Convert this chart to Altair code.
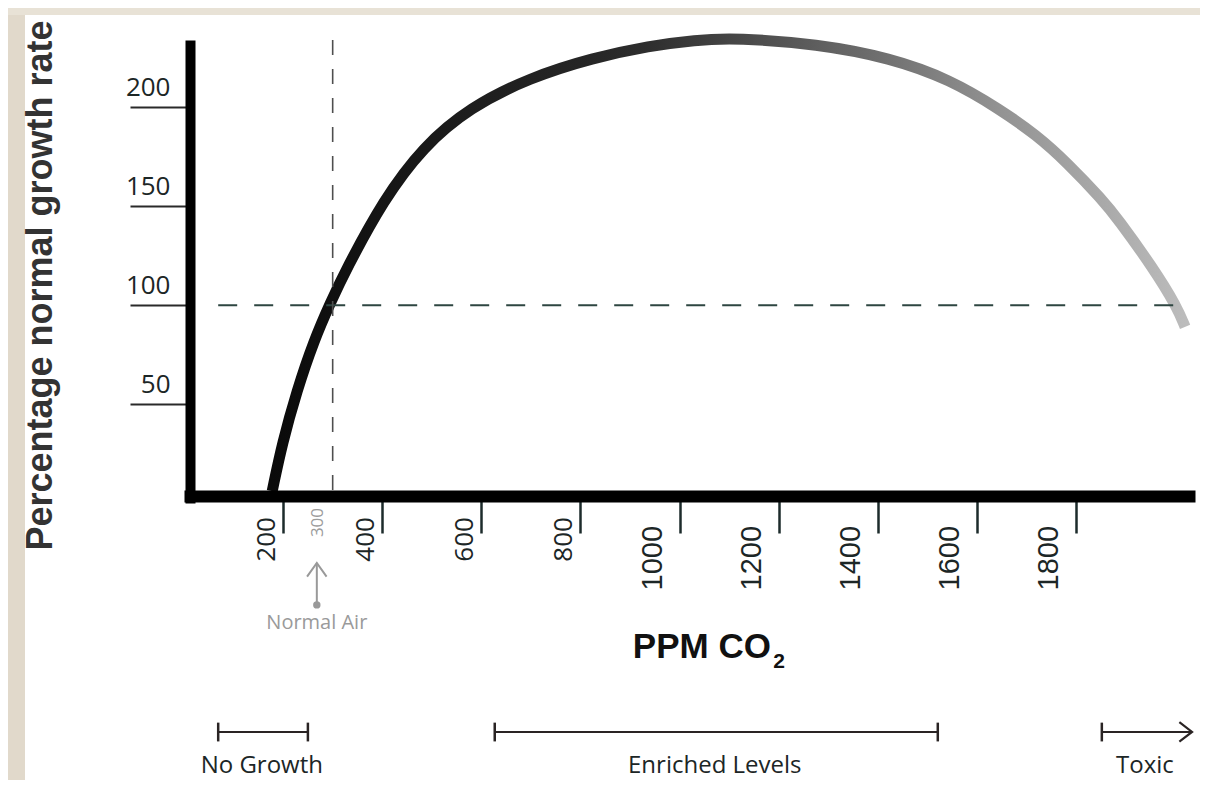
import altair as alt
import pandas as pd

# ---------------- data ----------------
ppm = [178, 198, 228, 262, 295, 327, 402, 482, 577, 698, 825, 940, 1030, 1116, 1277,
       1425, 1546, 1646, 1720, 1782, 1854, 1883, 1955, 2004, 2020]
growth = [6, 30, 57, 82, 101, 118, 153, 180, 200, 215, 225, 231, 234, 235, 232,
          225, 214, 199, 186, 172, 153, 144, 119, 99, 89]

x_ticks = [200, 400, 600, 800, 1000, 1200, 1400, 1600, 1800]
x_labels_short = [200, 400, 600, 800]
x_labels_long = [1000, 1200, 1400, 1600, 1800]
normal_air_ppm = [300]
y_ticks = [50, 100, 150, 200]

reference_growth = [100]
reference_span = [69, 2024]

range_names = ["No Growth", "Enriched Levels", "Toxic"]
range_start = [69, 627, 1852]
range_end = [250, 1521, 2034]
range_text_x = [157, 1071, 1939]
cap_positions = [69, 250, 627, 1521, 1852]
arrow_tip = [2034]

normal_air_label = ["Normal Air"]
normal_air_x = [268]

X_DOMAIN = [0, 2040]
Y_DOMAIN = [0, 234]

# vertical positions (in growth units) of the annotations below the axis
LABEL_SHORT_Y = -7.1
LABEL_LONG_Y = -11.6
LABEL_300_Y = -2.5
BAR_Y = -115.7
CAP_TOP = -111
CAP_BOTTOM = -120.5
RANGE_TEXT_Y = -136.4
AIR_TIP_Y = -30.3
AIR_DOT_Y = -51.5
AIR_TEXT_Y = -60.6
XTITLE_Y = -78.3
XSUB_Y = -83.5

x_scale = alt.Scale(domain=X_DOMAIN, nice=False, zero=False)
y_scale = alt.Scale(domain=Y_DOMAIN, nice=False, zero=False)

INK = "#1c2626"

x_axis = alt.Axis(
    values=x_ticks, title=None, orient="bottom", offset=-7, zindex=1, grid=False,
    domainColor="#000000", domainWidth=12,
    tickColor="#1d2b2b", tickWidth=2.5, tickSize=37, labels=False,
)

y_axis = alt.Axis(
    values=y_ticks, orient="left", offset=-6, zindex=1, grid=False,
    domainColor="#000000", domainWidth=10,
    tickColor="#2a2a2a", tickWidth=2, tickSize=60,
    labelPadding=-40, labelAlign="right", labelBaseline="alphabetic", labelOffset=-12,
    labelFont="Open Sans", labelFontSize=26, labelColor=INK,
    labelOverlap=False, labelFlush=False,
    title="Percentage normal growth rate", titleFont="Liberation Sans",
    titleFontWeight="bold", titleFontSize=36, titleColor="#333333",
    titleAngle=270, titleAlign="center", titleBaseline="middle",
    titleX=-150, titleY=245,
)


def X(field):
    return alt.X(field, scale=x_scale, axis=x_axis)


def Y(field):
    return alt.Y(field, scale=y_scale, axis=y_axis)


# ---------------- layers ----------------
curve_df = pd.DataFrame({"ppm": ppm, "growth": growth})
gradient = alt.LinearGradient(
    gradient="linear", x1=0, x2=1, y1=0, y2=0,
    stops=[
        alt.GradientStop(color="#0a0a0a", offset=0),
        alt.GradientStop(color="#1c1c1c", offset=0.2),
        alt.GradientStop(color="#262626", offset=0.35),
        alt.GradientStop(color="#2e2e2e", offset=0.41),
        alt.GradientStop(color="#474747", offset=0.51),
        alt.GradientStop(color="#5f5f5f", offset=0.6),
        alt.GradientStop(color="#707070", offset=0.67),
        alt.GradientStop(color="#848484", offset=0.74),
        alt.GradientStop(color="#939393", offset=0.8),
        alt.GradientStop(color="#a9a9a9", offset=0.91),
        alt.GradientStop(color="#bcbcbc", offset=1),
    ],
)
curve = alt.Chart(curve_df).mark_line(
    stroke=gradient, strokeWidth=11, interpolate="basis", clip=False, strokeCap="butt"
).encode(x=X("ppm:Q"), y=Y("growth:Q"))

strip_left = alt.Chart(pd.DataFrame({"k": [0]})).mark_rect(fill="#e1d9cb", clip=False).encode(
    x=alt.value(-176), x2=alt.value(-159), y=alt.value(-32), y2=alt.value(740)
)
strip_top = alt.Chart(pd.DataFrame({"k": [0]})).mark_rect(fill="#e8e2d6", clip=False).encode(
    x=alt.value(-176), x2=alt.value(1016), y=alt.value(-32), y2=alt.value(-25)
)

vline = alt.Chart(pd.DataFrame({"ppm": normal_air_ppm, "g0": [0], "g1": [Y_DOMAIN[1]]})).mark_rule(
    stroke="#4e4e4e", strokeWidth=1.6, strokeDash=[15, 14]
).encode(x=X("ppm:Q"), y=Y("g1:Q"), y2="g0:Q")

hline = alt.Chart(pd.DataFrame({"x0": [reference_span[0]], "x1": [reference_span[1]],
                                "growth": reference_growth})).mark_rule(
    stroke="#2e4641", strokeWidth=2, strokeDash=[19, 17]
).encode(x=X("x0:Q"), x2="x1:Q", y=Y("growth:Q"))

# x tick labels
short_df = pd.DataFrame({"v": x_labels_short, "label": [str(v) for v in x_labels_short],
                         "y": [LABEL_SHORT_Y] * len(x_labels_short)})
long_df = pd.DataFrame({"v": x_labels_long, "label": [str(v) for v in x_labels_long],
                        "y": [LABEL_LONG_Y] * len(x_labels_long)})
air_lbl_df = pd.DataFrame({"v": normal_air_ppm, "label": [str(v) for v in normal_air_ppm],
                           "y": [LABEL_300_Y]})
short_lbl = alt.Chart(short_df).mark_text(
    angle=270, align="right", baseline="middle", dy=-16,
    font="Open Sans", fontSize=26, color=INK
).encode(x=X("v:Q"), y=Y("y:Q"), text="label:N")
long_lbl = alt.Chart(long_df).mark_text(
    angle=270, align="right", baseline="middle", dy=-27,
    font="Liberation Sans", fontSize=29, color=INK
).encode(x=X("v:Q"), y=Y("y:Q"), text="label:N")
air_lbl = alt.Chart(air_lbl_df).mark_text(
    angle=270, align="right", baseline="middle", dy=-15,
    font="Open Sans", fontSize=17, color="#9c9c9c"
).encode(x=X("v:Q"), y=Y("y:Q"), text="label:N")

ranges_df = pd.DataFrame({"name": range_names, "start": range_start, "end": range_end,
                          "tx": range_text_x, "by": [BAR_Y] * 3, "ty": [RANGE_TEXT_Y] * 3})
bars = alt.Chart(ranges_df).mark_rule(stroke="#2a2424", strokeWidth=2).encode(
    x=X("start:Q"), x2="end:Q", y=Y("by:Q"))
caps_df = pd.DataFrame({"x": cap_positions, "t": [CAP_TOP] * len(cap_positions),
                        "b": [CAP_BOTTOM] * len(cap_positions)})
caps = alt.Chart(caps_df).mark_rule(stroke="#2a2424", strokeWidth=2.5).encode(
    x=X("x:Q"), y=Y("t:Q"), y2="b:Q")
arrow_df = pd.DataFrame({"x": arrow_tip, "y": [BAR_Y]})
arrow = alt.Chart(arrow_df).mark_point(
    shape="M-1.3,-1L0,0L-1.3,1", filled=False, stroke="#2a2424", strokeWidth=2.2,
    size=380, opacity=1
).encode(x=X("x:Q"), y=Y("y:Q"))
range_text = alt.Chart(ranges_df).mark_text(
    font="Open Sans", fontSize=24, color=INK, baseline="alphabetic", align="center"
).encode(x=X("tx:Q"), y=Y("ty:Q"), text="name:N")

air_df = pd.DataFrame({"x": normal_air_x, "tip": [AIR_TIP_Y], "dot": [AIR_DOT_Y],
                       "ty": [AIR_TEXT_Y], "label": normal_air_label})
air_shaft = alt.Chart(air_df).mark_rule(stroke="#999999", strokeWidth=2).encode(
    x=X("x:Q"), y=Y("tip:Q"), y2="dot:Q")
air_head = alt.Chart(air_df).mark_point(
    shape="M-1,1.4L0,0L1,1.4", filled=False, stroke="#999999", strokeWidth=2,
    size=380, opacity=1
).encode(x=X("x:Q"), y=Y("tip:Q"))
air_dot = alt.Chart(air_df).mark_circle(size=55, color="#999999", opacity=1).encode(
    x=X("x:Q"), y=Y("dot:Q"))
air_text = alt.Chart(air_df).mark_text(
    font="Open Sans", fontSize=20, color="#9a9a9a", baseline="middle", align="center"
).encode(x=X("x:Q"), y=Y("ty:Q"), text="label:N")

xtitle_df = pd.DataFrame({"x": [1045], "y": [XTITLE_Y], "t": ["PPM CO"]})
xtitle = alt.Chart(xtitle_df).mark_text(
    font="Liberation Sans", fontWeight="bold", fontSize=35, color="#111111",
    align="center", baseline="alphabetic"
).encode(x=X("x:Q"), y=Y("y:Q"), text="t:N")
xsub_df = pd.DataFrame({"x": [1189], "y": [XSUB_Y], "t": ["2"]})
xsub = alt.Chart(xsub_df).mark_text(
    font="Liberation Sans", fontWeight="bold", fontSize=21, color="#111111",
    align="left", baseline="alphabetic"
).encode(x=X("x:Q"), y=Y("y:Q"), text="t:N")

chart = alt.layer(
    curve, strip_left, strip_top, hline, vline, short_lbl, long_lbl, air_lbl,
    bars, caps, arrow, range_text,
    air_shaft, air_head, air_dot, air_text, xtitle, xsub
).properties(
    width=1011, height=463,
    padding={"left": 176, "top": 32, "right": 5, "bottom": 277},
    autosize=alt.AutoSizeParams(type="none"),
    background="white",
).configure_view(stroke=None)

chart.save("out.html", embed_options={"renderer": "svg", "actions": False})
